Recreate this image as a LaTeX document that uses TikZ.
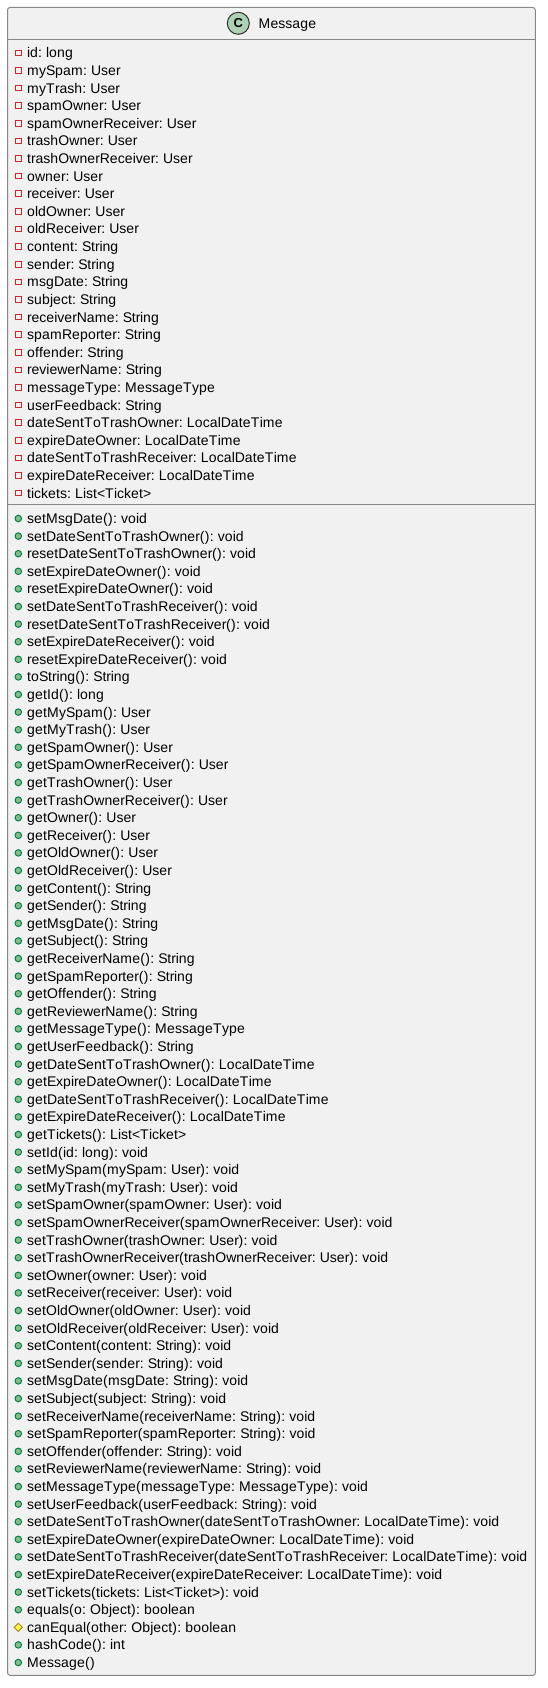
\documentclass[tikz,border=0pt]{standalone}
\usepackage{fontspec}
\setmainfont{Liberation Sans}
\usetikzlibrary{shapes.geometric}
\definecolor{boxfill}{HTML}{F1F1F1}
\definecolor{boxline}{HTML}{888888}
\definecolor{privline}{HTML}{C82930}
\definecolor{publine}{HTML}{038048}
\definecolor{pubfill}{HTML}{84BE84}
\definecolor{protline}{HTML}{B38D22}
\definecolor{protfill}{HTML}{FFFF44}
\definecolor{classfill}{HTML}{ADD1B2}
% The reference has whole-pixel glyph advances; set each glyph on that grid.
\makeatletter
\def\setadv#1#2{\@for\advloopvar:=#2\do{\expandafter\gdef\csname adv@\advloopvar\endcsname{#1}}}
\setadv{3}{i,l,j}
\setadv{4}{t,f,:,I}
\expandafter\gdef\csname adv@ \endcsname{4}
\setadv{4.3}{r}
\setadv{5}{(,)}
\setadv{7}{s,c,v,x,y,k}
\setadv{8}{a,b,d,e,g,h,n,o,p,q,u,L,<,>}
\setadv{9}{S,T,E,F}
\setadv{10}{w,D,R,U,C,N}
\setadv{11}{O}
\setadv{12}{m,M}
\makeatother
\ExplSyntaxOn
\NewDocumentCommand{\gridtext}{m}
  {
    \str_map_inline:nn {#1}
      { \hbox_to_wd:nn { \use:c {adv@##1} pt } { ##1 \hss } }
  }
\NewDocumentCommand{\gridtextvar}{m}
  { \exp_args:No \gridtext {#1} }
\ExplSyntaxOff
\tikzset{
  x=1pt,y=-1pt,
  classbox/.style={draw=boxline,fill=boxfill,line width=1pt,rounded corners=2.5pt},
  sepline/.style={draw=boxline,line width=1pt},
  member/.style={anchor=base west,inner sep=0pt,font=\fontsize{14pt}{16pt}\selectfont,text=black},
  privicon/.style={draw=privline,fill=none,line width=1pt,minimum size=5.6pt,inner sep=0pt,shape=rectangle},
  pubicon/.style={draw=publine,fill=pubfill,line width=1pt,minimum size=6.5pt,inner sep=0pt,shape=circle},
  proticon/.style={draw=protline,fill=protfill,line width=1pt,minimum size=8.5pt,inner sep=0pt,shape=diamond},
  classicon/.style={draw=black!80!boxfill,fill=classfill,line width=1pt,minimum size=22pt,inner sep=0pt,shape=circle,font=\bfseries\fontsize{13pt}{13pt}\selectfont},
}
\begin{document}
\begin{tikzpicture}
\useasboundingbox (0,0) rectangle (548,1688);
\draw[classbox] (7.5,7.5) rectangle (535.3,1675.3);
\draw[sepline] (7.5,39.5) coordinate (h1) -- (535.3,39.5) coordinate (h2);
\draw[sepline] (7.5,504.3) coordinate (s1) -- (535.3,504.3) coordinate (s2);
\node[classicon] (classmark) at (238.3,23.3) {C};
\node[member] (classname) at (258.3,28.3) {\gridtext{Message}};
\foreach \i/\t in {
0/id: long,1/mySpam: User,2/myTrash: User,3/spamOwner: User,4/spamOwnerReceiver: User,5/trashOwner: User,6/trashOwnerReceiver: User,7/owner: User,8/receiver: User,9/oldOwner: User,10/oldReceiver: User,11/content: String,12/sender: String,13/msgDate: String,14/subject: String,15/receiverName: String,16/spamReporter: String,17/offender: String,18/reviewerName: String,19/messageType: MessageType,20/userFeedback: String,21/dateSentToTrashOwner: LocalDateTime,22/expireDateOwner: LocalDateTime,23/dateSentToTrashReceiver: LocalDateTime,24/expireDateReceiver: LocalDateTime,25/tickets: List<Ticket>}
{
  \node[privicon] (ai\i) at (18.3,53+17.6*\i) {};
  \node[member] (a\i) at (27,58+17.6*\i) {\gridtextvar{\t}};
}
\foreach \i/\t in {
0/setMsgDate(): void,1/setDateSentToTrashOwner(): void,2/resetDateSentToTrashOwner(): void,3/setExpireDateOwner(): void,4/resetExpireDateOwner(): void,5/setDateSentToTrashReceiver(): void,6/resetDateSentToTrashReceiver(): void,7/setExpireDateReceiver(): void,8/resetExpireDateReceiver(): void,9/toString(): String,10/getId(): long,11/getMySpam(): User,12/getMyTrash(): User,13/getSpamOwner(): User,14/getSpamOwnerReceiver(): User,15/getTrashOwner(): User,16/getTrashOwnerReceiver(): User,17/getOwner(): User,18/getReceiver(): User,19/getOldOwner(): User,20/getOldReceiver(): User,21/getContent(): String,22/getSender(): String,23/getMsgDate(): String,24/getSubject(): String,25/getReceiverName(): String,26/getSpamReporter(): String,27/getOffender(): String,28/getReviewerName(): String,29/getMessageType(): MessageType,30/getUserFeedback(): String,31/getDateSentToTrashOwner(): LocalDateTime,32/getExpireDateOwner(): LocalDateTime,33/getDateSentToTrashReceiver(): LocalDateTime,34/getExpireDateReceiver(): LocalDateTime,35/getTickets(): List<Ticket>,36/setId(id: long): void,37/setMySpam(mySpam: User): void,38/setMyTrash(myTrash: User): void,39/setSpamOwner(spamOwner: User): void,40/setSpamOwnerReceiver(spamOwnerReceiver: User): void,41/setTrashOwner(trashOwner: User): void,42/setTrashOwnerReceiver(trashOwnerReceiver: User): void,43/setOwner(owner: User): void,44/setReceiver(receiver: User): void,45/setOldOwner(oldOwner: User): void,46/setOldReceiver(oldReceiver: User): void,47/setContent(content: String): void,48/setSender(sender: String): void,49/setMsgDate(msgDate: String): void,50/setSubject(subject: String): void,51/setReceiverName(receiverName: String): void,52/setSpamReporter(spamReporter: String): void,53/setOffender(offender: String): void,54/setReviewerName(reviewerName: String): void,55/setMessageType(messageType: MessageType): void,56/setUserFeedback(userFeedback: String): void,57/setDateSentToTrashOwner(dateSentToTrashOwner: LocalDateTime): void,58/setExpireDateOwner(expireDateOwner: LocalDateTime): void,59/setDateSentToTrashReceiver(dateSentToTrashReceiver: LocalDateTime): void,60/setExpireDateReceiver(expireDateReceiver: LocalDateTime): void,61/setTickets(tickets: List<Ticket>): void,62/equals(o: Object): boolean,64/hashCode(): int,65/Message()}
{
  \node[pubicon] (mi\i) at (18.3,518.5+17.6*\i) {};
  \node[member] (m\i) at (27,523.5+17.6*\i) {\gridtextvar{\t}};
}
\node[proticon] (mi63) at (18.3,518.5+17.6*63) {};
\node[member] (m63) at (27,523.5+17.6*63) {\gridtext{canEqual(other: Object): boolean}};
\end{tikzpicture}
\end{document}
